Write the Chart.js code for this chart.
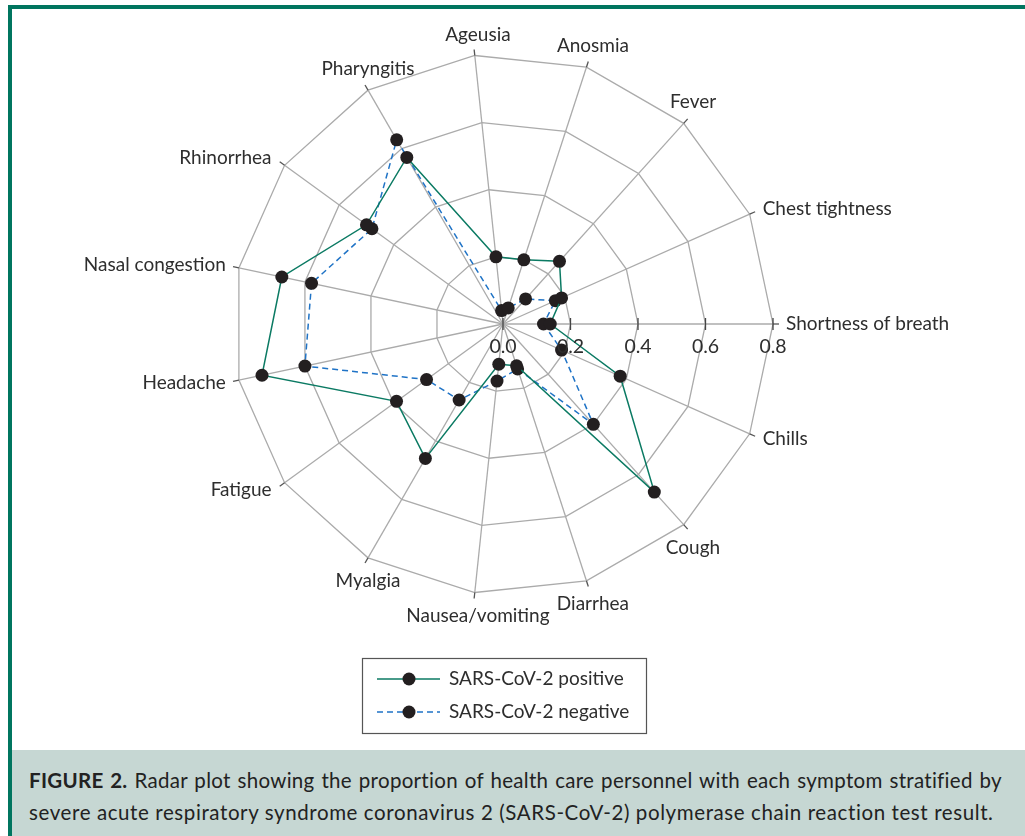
<!DOCTYPE html>
<html>
    <head>
        <script src="https://cdn.jsdelivr.net/npm/chart.js@4.4.1/dist/chart.umd.min.js"></script>
        <style>
            body { margin: 0; background: #fff; font-family: Lato, "Open Sans", sans-serif; }
            #wrap { position: relative; width: 1025px; height: 836px; overflow: hidden; }
            #myChart { position: absolute; left: 0; top: 0; }
            #topBar { position: absolute; left: 8px; top: 5px; width: 1017px; height: 4px; background: #00755f; }
            #leftBar { position: absolute; left: 8px; top: 5px; width: 4px; height: 831px; background: #00755f; }
            #caption { position: absolute; left: 12px; top: 750px; width: 1013px; height: 86px; background: #c6d7d3; }
            #captionText { position: absolute; left: 17px; top: 14px; width: 973px; font-size: 20.5px; letter-spacing: 0.6px; line-height: 32px; color: #222; }
            #captionText .first { display: block; white-space: nowrap; letter-spacing: 0.3px; text-align: justify; text-align-last: justify; }
        </style>
    </head>
    <body>
        <div id="wrap">
            <canvas id="myChart" width="1025" height="836"></canvas>
            <div id="topBar"></div>
            <div id="leftBar"></div>
            <div id="caption">
                <div id="captionText"><span class="first"><b>FIGURE 2.</b> Radar plot showing the proportion of health care personnel with each symptom stratified by</span>severe acute respiratory syndrome coronavirus 2 (SARS-CoV-2) polymerase chain reaction test result.</div>
            </div>
        </div>
        <script>
        // symptoms go clockwise starting at the right hand axis
        var symptoms = ['Shortness of breath','Chills','Cough','Diarrhea','Nausea/vomiting','Myalgia','Fatigue','Headache','Nasal congestion','Rhinorrhea','Pharyngitis','Ageusia','Anosmia','Fever','Chest tightness'];
        var positive = [0.14, 0.38, 0.67, 0.13, 0.12, 0.46, 0.39, 0.73, 0.67, 0.50, 0.57, 0.20, 0.20, 0.25, 0.19];
        var negative = [0.12, 0.19, 0.40, 0.14, 0.17, 0.26, 0.28, 0.60, 0.58, 0.48, 0.63, 0.04, 0.05, 0.10, 0.17];
        var tickValues = [0, 0.2, 0.4, 0.6, 0.8];
        var seriesNames = ['SARS-CoV-2 positive', 'SARS-CoV-2 negative'];

        var gridColor = '#ababab';
        var textColor = '#2e2e2e';
        var greenLine = '#0b7a63';
        var blueLine = '#1f73c6';
        var dotColor = '#231f20';
        var labelFont = '19px Lato, "Open Sans", sans-serif';

        var decorations = {
            id: 'decorations',
            beforeDatasetsDraw: function(chart) {
                var ctx = chart.ctx;
                var scale = chart.scales.r;
                var R = scale.drawingArea;
                ctx.save();
                // short marks sticking out past the outer ring
                ctx.strokeStyle = '#555';
                ctx.lineWidth = 1.3;
                for (var i = 0; i < symptoms.length; i++) {
                    var a = scale.getPointPosition(i, R);
                    var b = scale.getPointPosition(i, R + 6);
                    ctx.beginPath();
                    ctx.moveTo(a.x, a.y);
                    ctx.lineTo(b.x, b.y);
                    ctx.stroke();
                }
                // tick marks on the horizontal axis
                ctx.strokeStyle = '#444';
                for (var j = 0; j < tickValues.length; j++) {
                    var p = scale.getPointPosition(0, scale.getDistanceFromCenterForValue(tickValues[j]));
                    ctx.beginPath();
                    ctx.moveTo(p.x, p.y - 6);
                    ctx.lineTo(p.x, p.y + 6);
                    ctx.stroke();
                }
                ctx.restore();
            },
            afterDraw: function(chart) {
                var ctx = chart.ctx;
                var scale = chart.scales.r;
                var R = scale.drawingArea;
                ctx.save();
                ctx.fillStyle = textColor;
                ctx.font = labelFont;
                ctx.textBaseline = 'middle';
                for (var i = 0; i < symptoms.length; i++) {
                    var p = scale.getPointPosition(i, R);
                    var c = Math.cos(p.angle);
                    var s = -Math.sin(p.angle);
                    var x, y;
                    if (Math.abs(c) >= 0.8) {
                        ctx.textAlign = c > 0 ? 'left' : 'right';
                        x = p.x + (c > 0 ? 13 : -13);
                        y = p.y - 13 * s;
                    } else {
                        ctx.textAlign = 'center';
                        x = p.x + 4 + 8 * c;
                        y = p.y + (s > 0 ? -21 : 23);
                    }
                    ctx.fillText(symptoms[i], x, y);
                }
                // tick labels under the horizontal axis
                ctx.textAlign = 'center';
                ctx.font = '19.5px Lato, "Open Sans", sans-serif';
                for (var j = 0; j < tickValues.length; j++) {
                    var t = scale.getPointPosition(0, scale.getDistanceFromCenterForValue(tickValues[j]));
                    ctx.fillText(tickValues[j].toFixed(1), t.x, t.y + 23);
                }

                // legend box
                ctx.strokeStyle = '#555';
                ctx.lineWidth = 1.2;
                ctx.strokeRect(362.5, 658.5, 284, 75);
                var rows = [679, 712];
                var colors = [greenLine, blueLine];
                var dashes = [[], [6, 4]];
                ctx.font = labelFont;
                ctx.textAlign = 'left';
                for (var k = 0; k < 2; k++) {
                    ctx.strokeStyle = colors[k];
                    ctx.lineWidth = 1.5;
                    ctx.setLineDash(dashes[k]);
                    ctx.beginPath();
                    ctx.moveTo(377, rows[k]);
                    ctx.lineTo(440, rows[k]);
                    ctx.stroke();
                    ctx.setLineDash([]);
                    ctx.fillStyle = dotColor;
                    ctx.beginPath();
                    ctx.arc(409, rows[k], 6.5, 0, Math.PI * 2);
                    ctx.fill();
                    ctx.fillStyle = textColor;
                    ctx.fillText(seriesNames[k], 449, rows[k]);
                }
                ctx.restore();
            }
        };

        var ctx = document.getElementById('myChart');
        var myChart = new Chart(ctx, {
            type: 'radar',
            data: {
                labels: symptoms,
                datasets: [
                {
                    label: seriesNames[0],
                    data: positive,
                    borderColor: greenLine,
                    borderWidth: 1.5,
                    fill: false,
                    pointRadius: 6.5,
                    pointBorderWidth: 0,
                    pointBackgroundColor: dotColor
                },
                {
                    label: seriesNames[1],
                    data: negative,
                    borderColor: blueLine,
                    borderWidth: 1.5,
                    borderDash: [6, 4],
                    fill: false,
                    pointRadius: 6.5,
                    pointBorderWidth: 0,
                    pointBackgroundColor: dotColor
                }
                ]
            },
            options: {
                responsive: false,
                animation: false,
                layout: { padding: { left: 233, right: 251, top: 54, bottom: 241 } },
                plugins: {
                    legend: { display: false },
                    tooltip: { enabled: false }
                },
                scales: {
                    r: {
                        min: 0,
                        max: 0.8,
                        startAngle: 90,
                        ticks: { display: false, stepSize: 0.2 },
                        pointLabels: { display: false },
                        grid: { color: gridColor, lineWidth: 1.3 },
                        angleLines: { color: gridColor, lineWidth: 1.3 }
                    }
                }
            },
            plugins: [decorations]
        });
        </script>
    </body>
</html>
